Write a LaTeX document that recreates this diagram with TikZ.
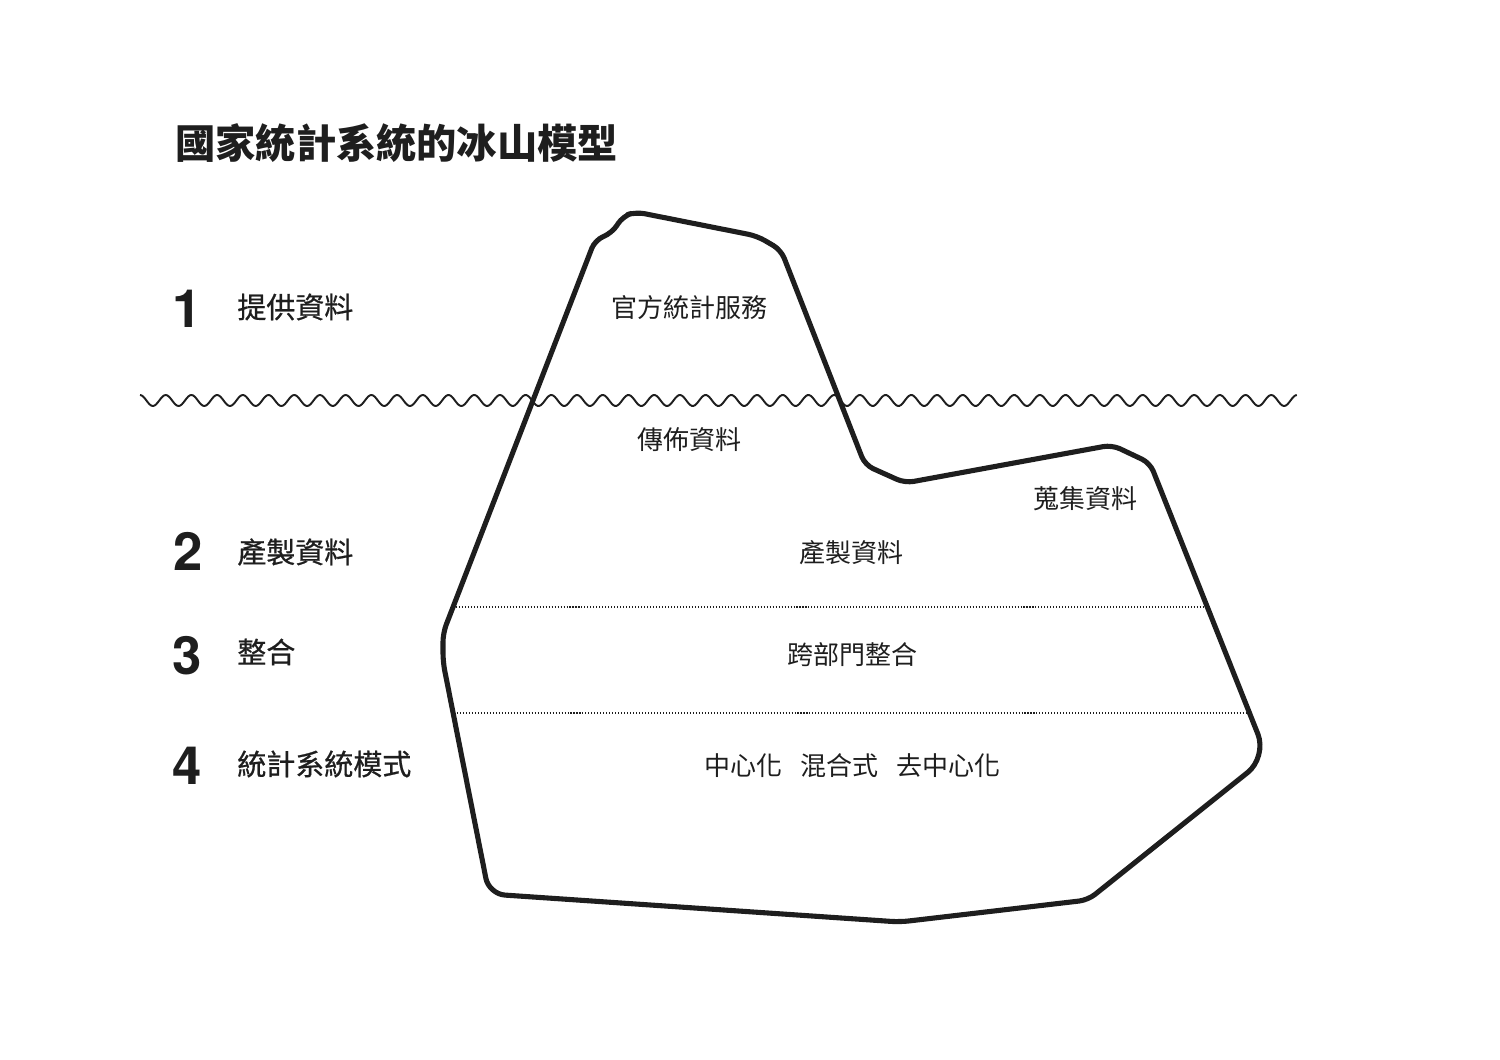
\documentclass[tikz,border=0pt]{standalone}
\usepackage{fontspec}
\setmainfont{Noto Sans CJK TC}
\newfontfamily\midfont[FakeBold=0.7]{Noto Sans CJK TC}
\newfontfamily\numfont{TeX Gyre Heros}
\usepackage{tikz}
\pgfdeclarelayer{edgelayer}
\pgfdeclarelayer{nodelayer}
\pgfsetlayers{edgelayer,nodelayer,main}
\definecolor{ink}{RGB}{30,30,30}
\tikzstyle{none} = [inner sep=0pt, text=ink]
\tikzstyle{title} = [inner sep=0pt, anchor=west, text=ink, font=\bfseries\fontsize{22.9pt}{24pt}\selectfont]
\tikzstyle{level num} = [inner sep=0pt, text=ink, font=\numfont\bfseries\fontsize{30pt}{32pt}\selectfont]
\tikzstyle{level label} = [inner sep=0pt, anchor=west, text=ink, font=\midfont\fontsize{16.5pt}{18pt}\selectfont]
\tikzstyle{ice text} = [inner sep=0pt, text=ink, font=\fontsize{14.8pt}{16pt}\selectfont]
\tikzstyle{ice edge} = [draw=ink, line width=2.9pt, line join=round, rounded corners=5pt]
\tikzstyle{sea edge} = [draw=ink, line width=1.1pt]
\tikzstyle{split edge} = [draw=ink, line width=0.6pt, dash pattern=on 0.6pt off 1.1pt]

\begin{document}
\begin{tikzpicture}[x=0.02cm, y=-0.02cm]
	\useasboundingbox (0,0) rectangle (1500,1060);
	\begin{pgfonlayer}{nodelayer}
		\node [style=title] (0) at (175, 143) {國家統計系統的冰山模型};
		\node [style=level num] (1) at (187, 309) {1};
		\node [style=level num] (2) at (188, 551) {2};
		\node [style=level num] (3) at (187, 656) {3};
		\node [style=level num] (4) at (187, 766) {4};
		\node [style=level label] (5) at (237, 307) {提供資料};
		\node [style=level label] (6) at (237, 552) {產製資料};
		\node [style=level label] (7) at (237, 652) {整合};
		\node [style=level label] (8) at (237, 764) {統計系統模式};
		\node [style=ice text] (9) at (689, 308) {官方統計服務};
		\node [style=ice text] (10) at (689, 440) {傳佈資料};
		\node [style=ice text] (11) at (1085, 499) {蒐集資料};
		\node [style=ice text] (12) at (851, 553) {產製資料};
		\node [style=ice text] (13) at (852, 655) {跨部門整合};
		\node [style=ice text] (14) at (743, 766) {中心化};
		\node [style=ice text] (15) at (839, 766) {混合式};
		\node [style=ice text] (16) at (948, 766) {去中心化};
		\coordinate (17) at (453, 607);
		\coordinate (18) at (1207, 607);
		\coordinate (19) at (454, 713);
		\coordinate (20) at (1249, 713);
	\end{pgfonlayer}
	\begin{pgfonlayer}{edgelayer}
		\draw [style=ice edge] (443, 662) -- (443, 633) -- (595, 240) -- (612, 233)
			-- (623, 216) -- (636, 212) -- (757, 236) -- (781, 250) -- (865, 465)
			-- (905, 483) -- (1112, 445) -- (1150, 463)
			[rounded corners=14pt] -- (1267, 757) [rounded corners=5pt] -- (1088, 900)
			-- (900, 922) [rounded corners=9pt] -- (489, 894) [rounded corners=5pt] -- cycle;
		\draw [style=sea edge] plot [domain=0:45, samples=720] ({140+25.71*\x}, {400.5 - 5.5*cos(360*frac(\x))});
		\draw [style=split edge] (17) to (18);
		\draw [style=split edge] (19) to (20);
	\end{pgfonlayer}
\end{tikzpicture}
\end{document}
